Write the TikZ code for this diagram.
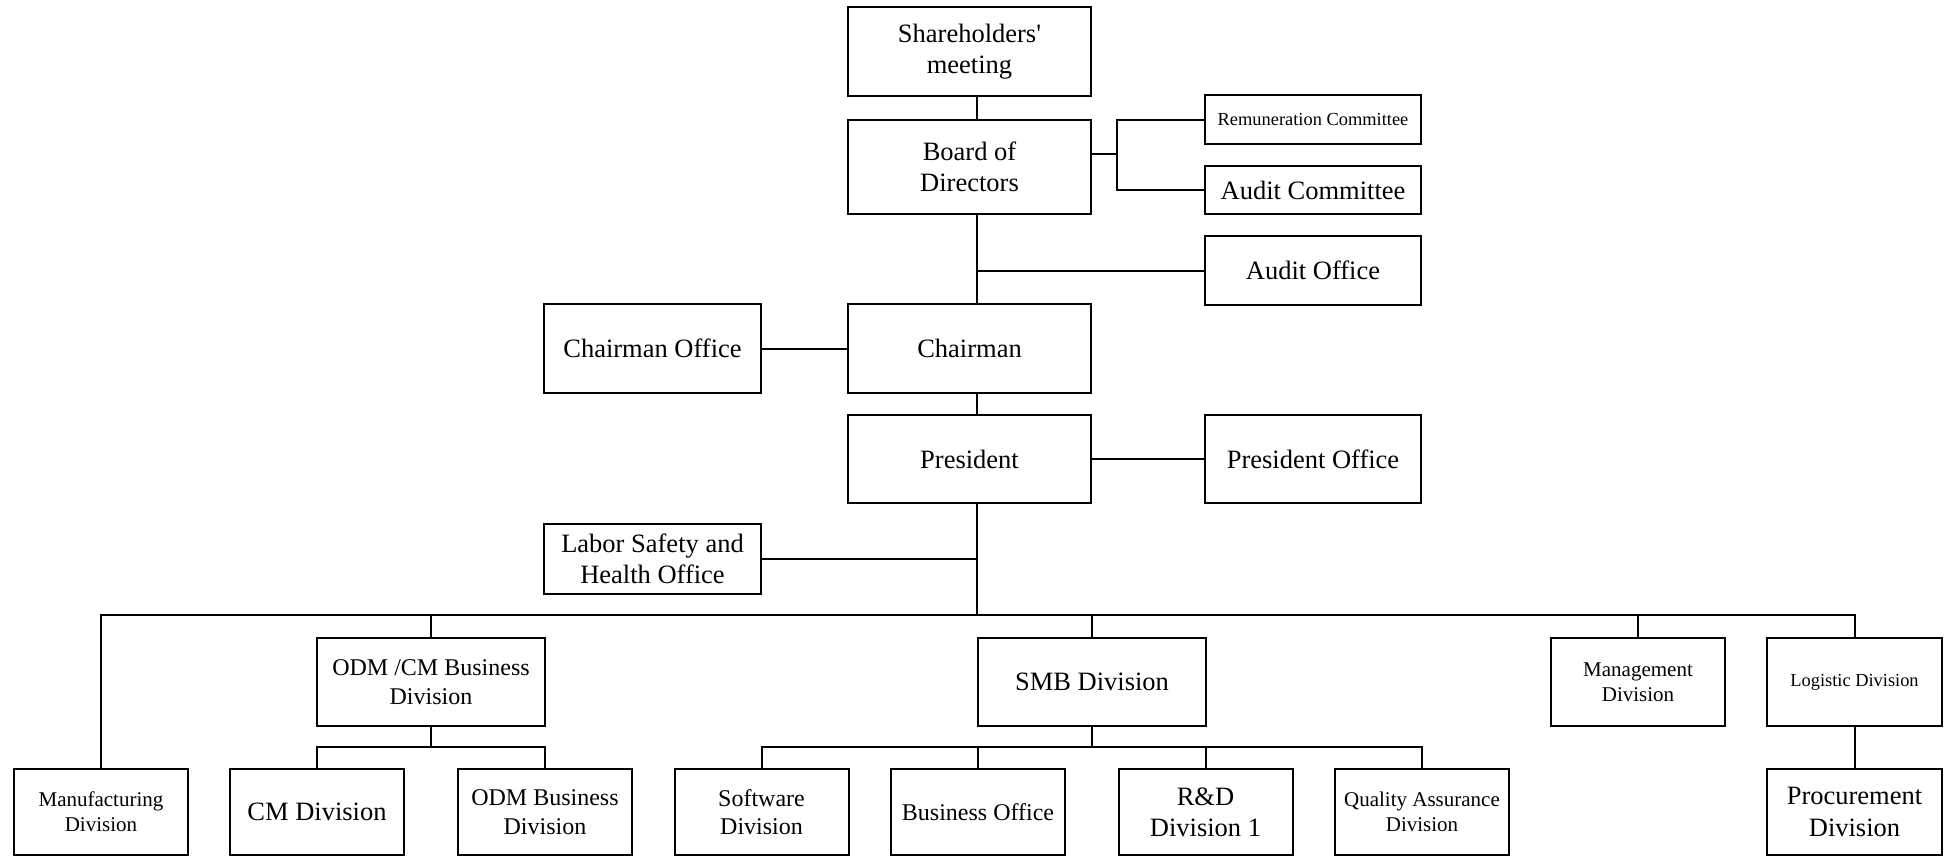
\documentclass[tikz,border=0pt]{standalone}
\usepackage{fontspec}
\setmainfont{Liberation Serif}
\usetikzlibrary{positioning,calc}

\begin{document}
\begin{tikzpicture}[
    x=0.5pt, y=-0.5pt,
    box/.style={draw, line width=1pt, align=center, inner sep=1pt},
    head/.style={box, minimum width=121.5pt, minimum height=44.5pt},
    side/.style={box, minimum width=108pt},
    mid/.style={box, minimum height=44pt},
    low/.style={box, minimum width=87pt, minimum height=43pt},
    fbig/.style={font=\fontsize{13.25}{15.6}\selectfont},
    fmid/.style={font=\fontsize{12}{14.2}\selectfont},
    fsml/.style={font=\fontsize{10.5}{12.4}\selectfont},
    ftny/.style={font=\fontsize{9.2}{11}\selectfont},
    link/.style={line width=1pt}
]
\useasboundingbox (0,0) rectangle (1948,857);

% top of the chart
\node[head, fbig] (sh) at (969.5,51.5) {Shareholders\textquotesingle\\meeting};
\node[head, fbig, minimum height=47pt] (board) at (969.5,167) {Board of\\Directors};
\node[side, ftny, minimum height=24.5pt] (remun) at (1313,119.5) {Remuneration Committee};
\node[side, fbig, minimum height=24pt] (auditc) at (1313,190) {Audit Committee};
\node[side, fbig, minimum height=34.5pt] (auditoff) at (1313,270.5) {Audit Office};
\node[box, fbig, minimum width=108.5pt, minimum height=44.5pt] (chairoff) at (652.5,348.5) {Chairman Office};
\node[head, fbig] (chair) at (969.5,348.5) {Chairman};
\node[head, fbig, minimum height=44pt] (pres) at (969.5,459) {President};
\node[side, fbig, minimum height=44pt] (presoff) at (1313,459) {President Office};
\node[box, fbig, minimum width=108.5pt, minimum height=35pt] (labor) at (652.5,559) {Labor Safety and\\Health Office};

\coordinate (spine) at (977,0);
\coordinate (cj) at (1117,154);
\coordinate (bus) at (977,615);

% divisions
\node[mid, fmid, minimum width=114pt] (odmcm) at (431,682) {ODM /CM Business\\Division};
\node[mid, fbig, minimum width=114pt] (smb) at (1092,682) {SMB Division};
\node[mid, fsml, minimum width=87pt] (mgmt) at (1638,682) {Management\\Division};
\node[mid, ftny, minimum width=87.5pt] (logis) at (1854.5,682) {Logistic Division};

\coordinate (odmj) at (431,747);
\coordinate (smbj) at (1092,747);

\node[low, fsml] (manuf) at (101,812) {Manufacturing\\Division};
\node[low, fbig] (cm) at (317,812) {CM Division};
\node[low, fmid] (odmb) at (545,812) {ODM Business\\Division};
\node[low, fmid] (soft) at (761.5,812) {Software\\Division};
\node[low, fmid] (bizoff) at (978,812) {Business Office};
\node[low, fbig] (rd) at (1205.5,812) {R\&D\\Division 1};
\node[low, fsml] (qa) at (1422,812) {Quality Assurance\\Division};
\node[low, fbig, minimum width=87.5pt] (proc) at (1854.5,812) {Procurement\\Division};

% connectors
\draw[link] (sh.south -| spine) -- (board.north -| spine);
\draw[link] (board.east |- cj) -- (cj);
\draw[link] (remun.west) -| (cj) |- (auditc.west);
\draw[link] (board.south -| spine) -- (chair.north -| spine);
\draw[link] (auditoff.west) -- (auditoff.west -| spine);
\draw[link] (chairoff) -- (chair);
\draw[link] (chair.south -| spine) -- (pres.north -| spine);
\draw[link] (pres) -- (presoff);
\draw[link] (pres.south -| spine) -- (bus);
\draw[link] (labor.east) -- (labor.east -| spine);
\draw[link] (manuf.north) |- (bus) -| (logis.north);
\foreach \n in {odmcm,smb,mgmt}
    \draw[link] (\n.north) -- (\n.north |- bus);
\draw[link] (odmcm.south) -- (odmj);
\draw[link] (cm.north) |- (odmj) -| (odmb.north);
\draw[link] (smb.south) -- (smbj);
\draw[link] (soft.north) |- (smbj) -| (qa.north);
\foreach \n in {bizoff,rd}
    \draw[link] (\n.north) -- (\n.north |- smbj);
\draw[link] (logis) -- (proc);
\end{tikzpicture}
\end{document}
